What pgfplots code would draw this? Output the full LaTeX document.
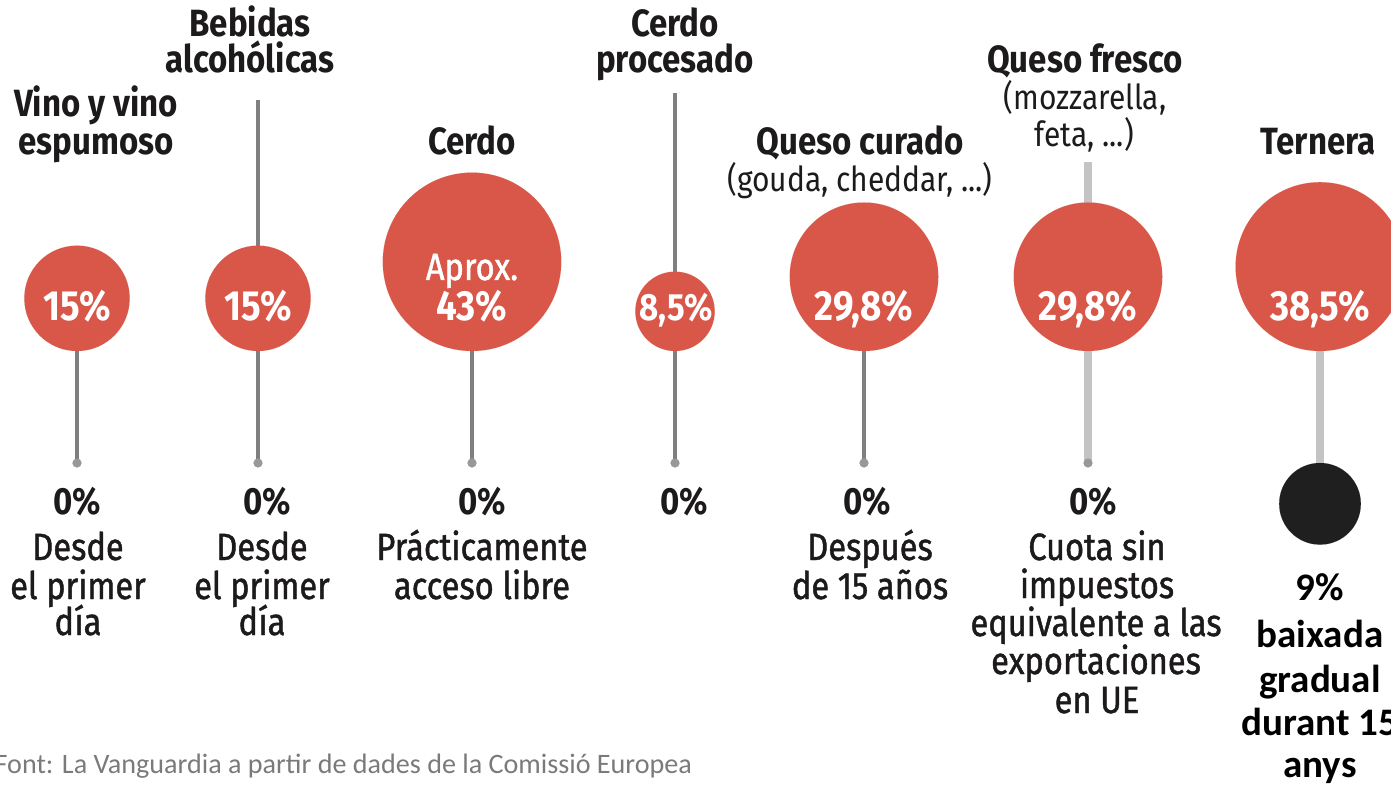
\documentclass[border=0pt]{standalone}
\usepackage{pgfplots}
\usepackage{pgfplotstable}
\pgfplotsset{compat=1.18}
\usepackage{fontspec}
\setmainfont{Fira Sans}[FakeStretch=0.87]
\newfontfamily\medfont{Fira Sans}[FakeStretch=0.86, FakeBold=1.2]
\newfontfamily\calib{Carlito}

\definecolor{bubred}{HTML}{D95748}
\definecolor{txt}{HTML}{1C1A1A}
\definecolor{stem}{HTML}{7F7F7F}
\definecolor{stemlight}{HTML}{C4C4C4}
\definecolor{foot}{HTML}{7A7A7A}

\newcommand\ft{\fontsize{10.8}{11}\selectfont}
\newcommand\bubfont{\fontsize{12}{12}\selectfont}
\newcommand\sub{\fontsize{9.8}{11}\selectfont}

% bubble position (px) and tariff (%); radius grows with sqrt of the value
\pgfplotstableread{
x    v
77   15
258  15
472  43
675  8.5
864  29.8
1088 29.8
1320 38.5
}\bubbles
\pgfplotstableread{
x    v
1320 9
}\finalrate

\begin{document}
\begin{tikzpicture}
\useasboundingbox (0,0) rectangle (139.1mm,78.5mm);
\clip (0,0) rectangle (139.1mm,78.5mm);
\begin{axis}[
  at={(0,0)}, anchor=south west,
  width=139.1mm, height=78.5mm, scale only axis,
  xmin=0, xmax=1391, ymin=0, ymax=785, y dir=reverse,
  hide axis, clip=false, clip marker paths=true,
]
% stems
\addplot[stem, line width=1pt, unbounded coords=jump] coordinates {
  (77,351) (77,463) (nan,nan)
  (258,100) (258,463) (nan,nan)
  (472,351) (472,463) (nan,nan)
  (675,93) (675,463) (nan,nan)
  (864,351) (864,463)
};
\addplot[stemlight, line width=2.2pt, unbounded coords=jump] coordinates {
  (1088,162) (1088,463) (nan,nan)
  (1320,351) (1320,463)
};
\addplot[only marks, mark=*, mark size=1.1pt, color=stem!120!black] coordinates {
  (77,463) (258,463) (472,463) (675,463) (864,463) (1088,463)
};
% bubbles
\addplot[only marks, mark=*, scatter,
  visualization depends on={3.87*sqrt(\thisrow{v}) \as \rad},
  scatter/@pre marker code/.code={\scope[mark size=\rad, fill=bubred, draw=bubred, line width=0.01pt]},
  scatter/@post marker code/.code={\endscope},
] table[x=x, y expr={351-13.6*sqrt(\thisrow{v})}] {\bubbles};
\addplot[only marks, mark=*, scatter,
  visualization depends on={3.87*sqrt(\thisrow{v}) \as \rad},
  scatter/@pre marker code/.code={\scope[mark size=\rad, fill=black!88, draw=black!88, line width=0.01pt]},
  scatter/@post marker code/.code={\endscope},
] table[x=x, y expr={463+13.6*sqrt(\thisrow{v})}] {\finalrate};

% top labels
\begin{scope}[every node/.style={anchor=base, inner sep=0pt, text=txt, font=\ft\bfseries}]
\node at (axis cs:96,117) {Vino y vino};
\node at (axis cs:96,155) {espumoso};
\node at (axis cs:250,37) {Bebidas};
\node at (axis cs:250,73) {alcohólicas};
\node at (axis cs:472,155) {Cerdo};
\node at (axis cs:675,37) {Cerdo};
\node at (axis cs:675,73) {procesado};
\node at (axis cs:860,155) {Queso curado};
\node[font=\sub] at (axis cs:860,192) {(gouda, cheddar, ...)};
\node at (axis cs:1085,73) {Queso fresco};
\node[font=\sub] at (axis cs:1085,110) {(mozzarella,};
\node[font=\sub] at (axis cs:1084,147) {feta, ...)};
\node at (axis cs:1318,155) {Ternera};
\end{scope}

% values inside the bubbles
\begin{scope}[every node/.style={anchor=base, inner sep=0pt, text=white, font=\bubfont\bfseries}]
\node at (axis cs:77,321) {15\%};
\node at (axis cs:258,321) {15\%};
\node[font=\medfont\ft] at (axis cs:472,280) {Aprox.};
\node at (axis cs:472,321) {43\%};
\node[font=\ft\bfseries] at (axis cs:676,321) {8,5\%};
\node at (axis cs:864,321) {29,8\%};
\node at (axis cs:1088,321) {29,8\%};
\node at (axis cs:1320,321) {38,5\%};
\end{scope}

% final rates
\begin{scope}[every node/.style={anchor=base, inner sep=0pt, text=txt, font=\medfont\ft}]
\node[font=\ft\bfseries] at (axis cs:77,514) {0\%};
\node[font=\ft\bfseries] at (axis cs:267,514) {0\%};
\node[font=\ft\bfseries] at (axis cs:482,514) {0\%};
\node[font=\ft\bfseries] at (axis cs:684,514) {0\%};
\node[font=\ft\bfseries] at (axis cs:867,514) {0\%};
\node[font=\ft\bfseries] at (axis cs:1093,514) {0\%};
\node at (axis cs:78,560) {Desde};
\node at (axis cs:78,599) {el primer};
\node at (axis cs:78,635) {día};
\node at (axis cs:262,560) {Desde};
\node at (axis cs:262,599) {el primer};
\node at (axis cs:262,635) {día};
\node at (axis cs:482,560) {Prácticamente};
\node at (axis cs:482,599) {acceso libre};
\node at (axis cs:870,560) {Después};
\node at (axis cs:870,599) {de 15 años};
\node at (axis cs:1097,560) {Cuota sin};
\node at (axis cs:1097,598) {impuestos};
\node at (axis cs:1096,636) {equivalente a las};
\node at (axis cs:1096,674) {exportaciones};
\node at (axis cs:1097,713) {en UE};
\end{scope}

\begin{scope}[every node/.style={anchor=base, inner sep=0pt, text=black, font=\calib\fontsize{11.1}{12}\selectfont\bfseries}]
\node at (axis cs:1320,600) {9\%};
\node at (axis cs:1320,647) {baixada};
\node at (axis cs:1320,692) {gradual};
\node at (axis cs:1320,735) {durant 15};
\node at (axis cs:1320,777) {anys};
\end{scope}

\node[anchor=base west, inner sep=0pt, text=foot, font=\calib\fontsize{8}{9}\selectfont]
  at (axis cs:-6,773) {Font: La Vanguardia a partir de dades de la Comissió Europea};
\end{axis}
\end{tikzpicture}
\end{document}
